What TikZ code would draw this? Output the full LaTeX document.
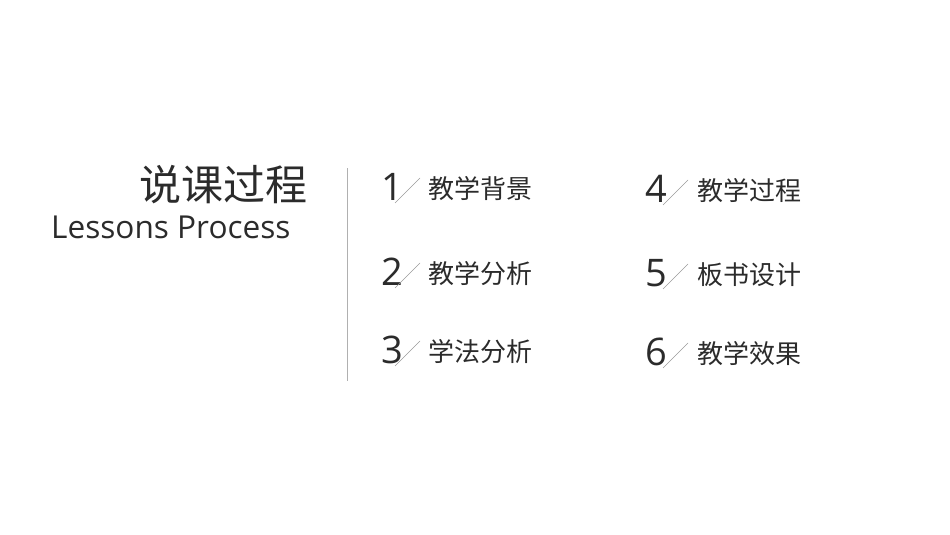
\documentclass[tikz,border=0pt]{standalone}
\usepackage{fontspec}
\setmainfont{Open Sans}
\newfontfamily\cjk{Noto Sans CJK SC}
\definecolor{txt}{HTML}{2B2B2B}
\definecolor{slashc}{HTML}{9A9A9A}
\definecolor{vline}{HTML}{B0B0B0}
\tikzset{
  titlecn/.style={inner sep=0pt, anchor=base east, text=txt, font=\cjk\fontsize{42}{42}\selectfont},
  titleen/.style={inner sep=0pt, anchor=base west, text=txt, font=\fontsize{31.6}{32}\selectfont},
  numlbl/.style={inner sep=0pt, anchor=base west, text=txt, font=\fontsize{38}{38}\selectfont},
  itemlbl/.style={inner sep=0pt, anchor=base west, text=txt, font=\cjk\fontsize{26}{26}\selectfont},
  slashline/.style={draw=slashc, line width=0.6pt},
}
\begin{document}
\begin{tikzpicture}[x=1pt,y=-1pt]
\useasboundingbox (0,0) rectangle (950,535);
\node[titlecn] (tcn) at (308,200) {说课过程};
\node[titleen] (ten) at (51,238) {Lessons Process};
\coordinate (vtop) at (347,168);
\coordinate (vbot) at (347,381);
\draw[draw=vline, line width=0.8pt] (vtop) -- (vbot);
% column 1
\foreach \i/\n/\t/\y in {1/1/教学背景/200, 2/2/教学分析/285, 3/3/学法分析/363}{
  \node[numlbl] (n\i) at (381,\y) {\n};
  \coordinate (sa\i) at (395,\y+3);
  \coordinate (sb\i) at (420,\y-22);
  \draw[slashline] (sa\i) -- (sb\i);
  \node[itemlbl] (t\i) at (428,\y-2) {\t};
}
% column 2
\foreach \i/\n/\t/\y in {4/4/教学过程/202, 5/5/板书设计/286, 6/6/教学效果/365}{
  \node[numlbl] (n\i) at (645,\y) {\n};
  \coordinate (sa\i) at (663,\y+3);
  \coordinate (sb\i) at (688,\y-22);
  \draw[slashline] (sa\i) -- (sb\i);
  \node[itemlbl] (t\i) at (697,\y-2) {\t};
}
\end{tikzpicture}
\end{document}
